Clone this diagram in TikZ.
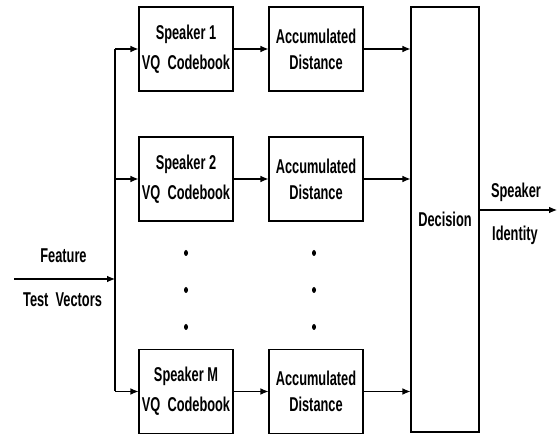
\documentclass[tikz,border=0pt]{standalone}
\usepackage{fontspec}
\setmainfont{Liberation Sans}[FakeStretch=0.64]
\usetikzlibrary{shapes.geometric,arrows.meta}
\tikzset{
  blk/.style={draw, line width=0.8pt, minimum width=70.5pt, minimum height=63pt, align=center,
    font=\bfseries\fontsize{15}{22.5}\selectfont, inner sep=0pt},
  lbl/.style={font=\bfseries\fontsize{15}{16}\selectfont, inner sep=0pt},
  dot/.style={fill, ellipse, minimum width=3pt, minimum height=4.5pt, inner sep=0pt},
  conn/.style={line width=0.8pt, -{Latex[length=6pt,width=5pt]}}
}
\begin{document}
\begin{tikzpicture}[x=0.75pt,y=-0.75pt]
\useasboundingbox (0,0) rectangle (557,434);
%codebooks
\node[blk] (cb1) at (186,49) {Speaker 1\\VQ\ \ Codebook};
\node[blk] (cb2) at (186,179) {Speaker 2\\VQ\ \ Codebook};
\node[blk] (cbm) at (186,391.5) {Speaker M\\VQ\ \ Codebook};
%distances
\node[blk, font=\bfseries\fontsize{15}{19.5}\selectfont] (ad1) at (316,49) {Accumulated\\Distance};
\node[blk, font=\bfseries\fontsize{15}{19.5}\selectfont] (ad2) at (316,179) {Accumulated\\Distance};
\node[blk, font=\bfseries\fontsize{15}{19.5}\selectfont] (adm) at (316,391.5) {Accumulated\\Distance};
%decision
\node[blk, minimum width=51pt, minimum height=318.75pt] (dec) at (445,219.5) {Decision};
%dots
\foreach \y/\n in {253/1,290/2,327/3}{
\node[dot] (dl\n) at (186,\y) {};
\node[dot] (dr\n) at (314,\y) {};
}
%input
\coordinate (in) at (14,279);
\coordinate (split) at (115,279);
\coordinate (top) at (115,49);
\coordinate (bot) at (115,391.5);
\draw[conn] (in) -- (split);
\draw[line width=0.8pt] (top) -- (bot);
\node[lbl] (feat) at (63.5,256) {Feature};
\node[lbl] (tv) at (62.5,300) {Test\ \ Vectors};
\foreach \r in {cb1,cb2,cbm}{
\draw[conn] (top |- \r) -- (\r);
}
% codebook to distance to decision
\foreach \a/\b in {cb1/ad1,cb2/ad2,cbm/adm}{
\draw[conn] (\a) -- (\b);
\draw[conn] (\b) -- (\b -| dec.west);
}
%output
\coordinate (out) at (557,210);
\draw[conn] (dec.east |- out) -- (out);
\node[lbl] (spk) at (516,192) {Speaker};
\node[lbl] (ident) at (515,235) {Identity};
\end{tikzpicture}
\end{document}
